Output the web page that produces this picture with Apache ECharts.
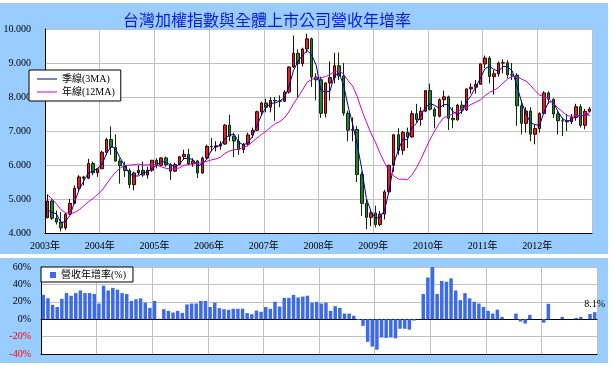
<!DOCTYPE html>
<html><head><meta charset="utf-8">
<script src="https://cdn.jsdelivr.net/npm/echarts@6.0.0/dist/echarts.min.js"></script>
<style>html,body{margin:0;padding:0;background:#fff}#c{width:614px;height:367px}</style>
</head><body><div id="c"></div>
<script>
// ---- tick labels / categories ----
const yearLabels = ['2003年','2004年','2005年','2006年','2007年','2008年','2009年','2010年','2011年','2012年'];
const months = [];
for (let y = 2003; y <= 2012; y++) for (let m = 1; m <= 12; m++) months.push(y + '-' + m);

// ---- TAIEX monthly OHLC ----
const open = [
 4452,4941,4432,4321,4148,4556,4872,5318,5650,5611,6045,5771,
 5890,6375,6750,6522,6117,5978,5839,5421,5766,5846,5706,5845,
 6140,5994,6208,6006,5818,6012,6242,6312,6033,6119,5764,6203,
 6548,6532,6562,6614,7172,6847,6704,6455,6611,6884,7021,7567,
 7824,7699,7902,7884,7875,8145,8883,9287,8982,9411,9711,8586,
 8506,7521,8412,8572,8920,8619,7524,7024,7046,5719,4870,4460,
 4591,4248,4557,5210,5993,6890,6432,6958,6826,7509,7340,7582,
 8188,7640,7436,7920,8004,7374,7329,7760,7616,8238,8287,8372,
 8973,9145,8600,8683,8999,9010,8653,8644,7741,7225,7588,6904,
 7072,7517,8121,7933,7501,7301,7296,7270,7397,7715,7166,7580];
const close = [
 4941,4432,4321,4148,4556,4872,5318,5650,5611,6045,5771,5890,
 6375,6750,6522,6117,5978,5839,5421,5766,5846,5706,5845,6140,
 5994,6208,6006,5818,6012,6242,6312,6033,6119,5764,6203,6548,
 6532,6562,6614,7172,6847,6704,6455,6611,6884,7021,7567,7824,
 7699,7902,7884,7875,8145,8883,9287,8982,9411,9711,8586,8506,
 7521,8412,8572,8920,8619,7524,7024,7046,5719,4870,4460,4591,
 4248,4557,5210,5993,6890,6432,6958,6826,7509,7340,7582,8188,
 7640,7436,7920,8004,7374,7329,7760,7616,8238,8287,8372,8973,
 9145,8600,8683,8999,9010,8653,8644,7741,7225,7588,6904,7072,
 7517,8121,7933,7501,7301,7296,7270,7397,7715,7166,7580,7650];
const high = [
 5141,4990,4660,4620,4590,5000,5400,5700,5680,6182,6100,5900,
 6420,6800,7135,6900,6200,6100,5900,5800,6000,6100,5950,6150,
 6200,6230,6250,6050,6070,6260,6450,6480,6200,6150,6250,6600,
 6800,6700,6700,7200,7476,6950,6900,6650,6950,7100,7600,7850,
 7950,8000,8000,8050,8200,8900,9807,9400,9450,9859,9750,8700,
 8600,8430,9049,9300,9309,9000,7600,7400,7150,5800,5000,4700,
 4800,4650,5270,6000,6900,7084,7000,7100,7600,7800,7700,8200,
 8395,7700,7960,8190,8040,7700,7800,7890,8250,8400,8500,8980,
 9220,9200,8800,9040,9110,9080,9000,8700,7900,7700,7700,7200,
 7550,8170,8170,7960,7600,7400,7500,7500,7800,7790,7650,7700];
const low = [
 4430,4380,4250,4044,4090,4530,4850,5220,5400,5590,5700,5650,
 5880,6300,6300,6100,5450,5650,5316,5255,5700,5650,5600,5800,
 5900,5950,5950,5565,5800,5990,6150,6000,5950,5618,5750,6150,
 6400,6400,6450,6600,6700,6232,6300,6350,6550,6800,7000,7450,
 7550,7550,7300,7700,7850,8100,8850,7987,8900,9300,8300,7900,
 7384,7400,7900,8400,8500,7450,6700,6700,5500,4500,4110,4200,
 4164,4200,4400,5150,5800,6300,6300,6500,6800,7250,7150,7550,
 7600,7080,7400,7700,7030,7080,7300,7500,7600,8100,8100,8360,
 8850,8400,8070,8600,8700,8550,8500,7150,6900,6950,6700,6610,
 6950,7500,7800,7380,6900,6850,7000,7200,7300,7100,7050,7550];

// ---- moving averages ----
const ma3 = [
 4691,4608,4565,4300,4342,4525,4915,5280,5526,5769,5809,5902,
 6012,6338,6549,6463,6206,5978,5746,5675,5678,5773,5799,5897,
 5993,6114,6069,6011,5945,6024,6189,6196,6155,5972,6029,6172,
 6428,6547,6569,6783,6878,6908,6669,6590,6650,6839,7157,7471,
 7697,7808,7828,7887,7968,8301,8772,9051,9227,9368,9236,8934,
 8204,8146,8168,8635,8704,8354,7722,7198,6596,5878,5016,4640,
 4433,4465,4672,5253,6031,6438,6760,6739,7098,7225,7477,7703,
 7803,7755,7665,7787,7766,7569,7488,7568,7871,8047,8299,8544,
 8830,8906,8809,8761,8897,8887,8769,8346,7870,7518,7239,7188,
 7164,7570,7857,7852,7578,7366,7289,7321,7461,7426,7487,7465];
const ma12 = [
 5129,5012,4858,4690,4596,4573,4605,4678,4797,4919,5010,5130,
 5249,5442,5626,5790,5908,5989,5997,6007,6027,5998,6005,6025,
 5994,5948,5905,5881,5883,5917,5991,6013,6036,6041,6071,6105,
 6150,6179,6230,6343,6412,6451,6463,6511,6575,6679,6793,6899,
 6997,7108,7214,7273,7381,7562,7798,7996,8207,8431,8516,8573,
 8558,8600,8658,8745,8784,8671,8482,8321,8013,7610,7266,6940,
 6667,6346,6066,5822,5678,5587,5581,5563,5712,5918,6178,6478,
 6760,7000,7226,7394,7434,7509,7576,7641,7702,7781,7847,7912,
 8038,8135,8198,8281,8418,8528,8602,8612,8528,8469,8347,8189,
 8053,8013,7951,7826,7683,7570,7456,7427,7468,7433,7489,7537];

// ---- revenue YoY (%) ----
const yoy = [
 28,24,16.5,14,23.5,30,27,30,33,30,30,29,
 18,38.5,33,36,34,30,29,21,23,24,19,13,
 21,0.5,11.5,9.6,7.7,9.6,7.3,17,18,18,21,21,
 14,19,12.7,11.5,10.8,12,12,12,7,5.8,10,8.5,
 14,12,20,14.6,24.6,24.6,28,25,26,27,19,20,
 18,19,9.6,15,13,6.5,6.5,4,-1,-7.7,-26,-31.5,
 -35,-21,-21.5,-21,-22,-11,-11,-12,-1.5,0.3,29,48,
 60,29,44,43,47,33,22,30,24,20,18,14,
 9.6,6.5,11,2.7,0,0,6.5,-2.7,-5,5,0,0,
 -4,17.7,0,0,2.7,0,0,1.5,2.7,0,6,8.1];

const serif = '"Liberation Serif", "Noto Sans CJK TC", serif';
const chart = echarts.init(document.getElementById('c'), null, {renderer: 'canvas'});
const gridLine = {show: true, lineStyle: {color: '#c0c0c0', width: 1}};
const blackLine = {show: true, onZero: false, lineStyle: {color: '#000', width: 1}};

chart.setOption({
  animation: false,
  backgroundColor: '#99ccff',
  title: {
    text: '台灣加權指數與全體上市公司營收年增率', left: 123, top: 12, padding: 0,
    textStyle: {fontSize: 16, fontWeight: 'normal', color: '#0a1ae6', fontFamily: '"Noto Sans CJK TC"'}
  },
  graphic: [
    {type: 'rect', shape: {x: 0, y: 0, width: 614, height: 3}, style: {fill: '#fff'}},
    {type: 'rect', shape: {x: 608, y: 0, width: 6, height: 367}, style: {fill: '#fff'}},
    {type: 'rect', shape: {x: 0, y: 254, width: 614, height: 4}, style: {fill: '#fff'}},
    {type: 'rect', shape: {x: 0, y: 363, width: 614, height: 4}, style: {fill: '#fff'}}
  ],
  legend: [
    {
      data: [{name: '季線(3MA)', icon: 'rect'}, {name: '年線(12MA)', icon: 'rect'}],
      left: 29, top: 70, orient: 'vertical',
      backgroundColor: '#fff', borderColor: '#000', borderWidth: 1, borderRadius: 0,
      padding: [4, 6, 4, 8], itemGap: 3, itemWidth: 20, itemHeight: 1,
      textStyle: {fontSize: 10, color: '#000', fontFamily: serif}
    },
    {
      data: ['營收年增率(%)'], left: 41, top: 267, icon: 'rect',
      backgroundColor: '#fff', borderColor: '#000', borderWidth: 1, borderRadius: 0,
      padding: [3, 7, 2, 9], itemWidth: 6, itemHeight: 6,
      textStyle: {fontSize: 10, color: '#000', fontFamily: serif}
    }
  ],
  grid: [
    {left: 45, right: 22, top: 29, height: 204, show: true, backgroundColor: '#fff', borderWidth: 0},
    {left: 41, right: 17, top: 267, height: 87, show: true, backgroundColor: '#fff', borderWidth: 0}
  ],
  xAxis: [
    {type: 'category', gridIndex: 0, data: months, show: false, boundaryGap: true, position: 'top'},
    {type: 'value', gridIndex: 0, min: 0, max: 120, interval: 12, position: 'bottom',
      axisLine: blackLine, axisTick: {show: false}, splitLine: gridLine,
      axisLabel: {margin: 8, fontSize: 10, color: '#000', fontFamily: serif,
        formatter: v => (v < 120 ? yearLabels[Math.round(v / 12)] : '')}},
    {type: 'category', gridIndex: 1, data: months, boundaryGap: true,
      axisLine: {show: true, onZero: true, lineStyle: {color: '#000', width: 1}},
      axisTick: {show: false}, axisLabel: {show: false}, splitLine: {show: false}},
    {type: 'value', gridIndex: 1, min: 0, max: 120, interval: 12, position: 'bottom',
      axisLine: blackLine, axisTick: {show: false}, axisLabel: {show: false}, splitLine: gridLine}
  ],
  yAxis: [
    {type: 'value', gridIndex: 0, min: 4000, max: 10000, interval: 1000,
      axisLine: blackLine, axisTick: {show: false}, splitLine: gridLine,
      axisLabel: {margin: 14, fontSize: 10, color: '#000', fontFamily: serif,
        formatter: v => (v / 1000).toFixed(3)}},
    {type: 'value', gridIndex: 1, min: -40, max: 60, interval: 20,
      axisLine: blackLine, axisTick: {show: false}, splitLine: gridLine,
      axisLabel: {margin: 10, fontSize: 10, fontFamily: serif,
        color: v => (v < 0 ? '#ff0000' : '#000'), formatter: '{value}%'}}
  ],
  series: [
    {
      type: 'candlestick', name: '加權指數', xAxisIndex: 0, yAxisIndex: 0, barWidth: 3,
      data: months.map((m, i) => [open[i], close[i], low[i], high[i]]),
      itemStyle: {color: '#e02228', color0: '#2a7a35', borderColor: '#3a0000', borderColor0: '#0c2a0c', borderWidth: 1}
    },
    {
      type: 'line', name: '季線(3MA)', xAxisIndex: 0, yAxisIndex: 0, data: ma3,
      symbol: 'none', lineStyle: {color: '#000099', width: 1}, itemStyle: {color: '#000099'}
    },
    {
      type: 'line', name: '年線(12MA)', xAxisIndex: 0, yAxisIndex: 0, data: ma12,
      symbol: 'none', lineStyle: {color: '#cc00cc', width: 1}, itemStyle: {color: '#cc00cc'}
    },
    {
      type: 'bar', name: '營收年增率(%)', xAxisIndex: 2, yAxisIndex: 1, barWidth: 3.5,
      itemStyle: {color: '#3d6ae8'},
      data: yoy.map((v, i) => i === yoy.length - 1
        ? {value: v, label: {show: true, position: 'top', distance: 3, formatter: '{c}%', fontSize: 10, color: '#000', fontFamily: serif}}
        : v)
    }
  ]
});
</script></body></html>
